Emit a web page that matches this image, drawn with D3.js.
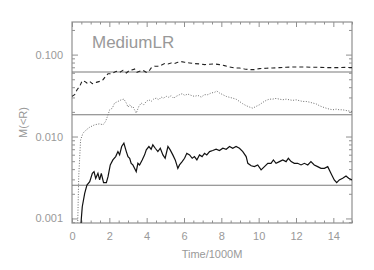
<!DOCTYPE html>
<html>
<head>
<meta charset="utf-8">
<script src="https://cdn.jsdelivr.net/npm/d3@7"></script>
<style>
  body { margin: 0; background: #fff; }
  text { font-family: "Liberation Sans", Arial, sans-serif; fill: #999; }
</style>
</head>
<body>
<div class="chart"></div>
<script>
const width = 374;
const height = 270;
const margin = { top: 22, right: 22, bottom: 47, left: 72 };

// M(<R) vs time, three radii
const solidData = [[0.46,0.0007],[0.50,0.00100],[0.55,0.00139],[0.68,0.00202],[0.80,0.00256],[0.95,0.00281],[1.09,0.00356],[1.18,0.00373],[1.27,0.00309],[1.39,0.00356],[1.48,0.00295],[1.57,0.00356],[1.69,0.00273],[1.84,0.00273],[1.93,0.00324],[2.05,0.00450],[2.19,0.00518],[2.34,0.00569],[2.46,0.00655],[2.55,0.00597],[2.66,0.00755],[2.78,0.00828],[2.91,0.00655],[3.00,0.00569],[3.09,0.00543],[3.17,0.00471],[3.26,0.00450],[3.35,0.00409],[3.44,0.00373],[3.53,0.00471],[3.62,0.00450],[3.76,0.00518],[3.89,0.00597],[3.98,0.00687],[4.12,0.00755],[4.24,0.00700],[4.33,0.00791],[4.46,0.00719],[4.60,0.00655],[4.73,0.00719],[4.87,0.00597],[4.99,0.00543],[5.14,0.00755],[5.26,0.00687],[5.40,0.00597],[5.53,0.00518],[5.67,0.00409],[5.76,0.00450],[5.90,0.00494],[6.03,0.00543],[6.15,0.00625],[6.30,0.00597],[6.44,0.00543],[6.56,0.00569],[6.69,0.00518],[6.83,0.00597],[6.97,0.00569],[7.10,0.00625],[7.22,0.00597],[7.37,0.00655],[7.54,0.00675],[7.72,0.00700],[7.90,0.00675],[8.08,0.00719],[8.26,0.00700],[8.44,0.00755],[8.61,0.00719],[8.79,0.00755],[8.97,0.00719],[9.15,0.00655],[9.33,0.00569],[9.42,0.00471],[9.60,0.00440],[9.77,0.00429],[9.95,0.00450],[10.13,0.00391],[10.31,0.00429],[10.49,0.00471],[10.66,0.00471],[10.79,0.00518],[10.93,0.00471],[11.11,0.00494],[11.29,0.00518],[11.47,0.00494],[11.59,0.00543],[11.74,0.00494],[11.91,0.00471],[12.09,0.00471],[12.27,0.00450],[12.45,0.00471],[12.63,0.00450],[12.80,0.00494],[12.98,0.00450],[13.16,0.00429],[13.34,0.00409],[13.52,0.00409],[13.70,0.00429],[13.87,0.00356],[14.05,0.00295],[14.18,0.00273],[14.32,0.00295],[14.50,0.00309],[14.68,0.00330],[14.82,0.00309],[15.00,0.00295]];

const dashedData = [[0,0.0309],[0.14,0.0324],[0.27,0.0373],[0.41,0.0409],[0.55,0.0481],[0.68,0.0471],[0.80,0.0450],[0.95,0.0471],[1.09,0.0441],[1.30,0.0458],[1.48,0.0471],[1.66,0.0494],[1.80,0.0543],[1.93,0.0585],[2.05,0.0585],[2.19,0.0597],[2.37,0.0625],[2.55,0.0608],[2.73,0.0643],[2.91,0.0597],[3.09,0.0643],[3.26,0.0655],[3.35,0.0668],[3.48,0.0608],[3.62,0.0625],[3.80,0.0643],[3.98,0.0608],[4.12,0.0625],[4.24,0.0687],[4.42,0.0720],[4.60,0.0720],[4.78,0.0740],[4.96,0.0776],[5.14,0.0769],[5.31,0.0791],[5.49,0.0776],[5.67,0.0806],[5.85,0.0821],[6.03,0.0806],[6.30,0.0791],[6.56,0.0776],[6.83,0.0769],[7.10,0.0755],[7.37,0.0762],[7.63,0.0769],[7.90,0.0755],[8.17,0.0733],[8.44,0.0706],[8.70,0.0687],[8.97,0.0687],[9.24,0.0668],[9.51,0.0655],[9.77,0.0655],[10.04,0.0674],[10.40,0.0681],[10.75,0.0687],[11.11,0.0693],[11.47,0.0700],[11.82,0.0706],[12.18,0.0706],[12.54,0.0706],[12.90,0.0700],[13.25,0.0700],[13.61,0.0693],[13.97,0.0693],[14.32,0.0693],[14.68,0.0700],[15.00,0.0693]];

const dottedData = [[0.29,0.0006],[0.36,0.00324],[0.46,0.00910],[0.59,0.0110],[0.77,0.0121],[0.95,0.0130],[1.21,0.0139],[1.48,0.0143],[1.66,0.0139],[1.80,0.0153],[1.93,0.0184],[2.02,0.0212],[2.16,0.0222],[2.28,0.0256],[2.46,0.0268],[2.64,0.0281],[2.78,0.0286],[2.91,0.0256],[3.00,0.0229],[3.09,0.0244],[3.17,0.0229],[3.26,0.0233],[3.35,0.0212],[3.44,0.0193],[3.58,0.0233],[3.71,0.0256],[3.84,0.0244],[3.98,0.0268],[4.12,0.0281],[4.24,0.0268],[4.37,0.0286],[4.51,0.0294],[4.65,0.0281],[4.78,0.0303],[4.90,0.0294],[5.05,0.0309],[5.19,0.0301],[5.31,0.0315],[5.44,0.0294],[5.58,0.0309],[5.76,0.0324],[5.90,0.0333],[6.04,0.0318],[6.20,0.0330],[6.38,0.0318],[6.56,0.0309],[6.74,0.0318],[6.92,0.0303],[7.10,0.0324],[7.28,0.0324],[7.45,0.0340],[7.63,0.0346],[7.76,0.0359],[7.90,0.0340],[8.08,0.0324],[8.26,0.0309],[8.44,0.0301],[8.61,0.0294],[8.79,0.0286],[8.97,0.0268],[9.15,0.0251],[9.33,0.0238],[9.51,0.0229],[9.68,0.0222],[9.86,0.0233],[10.04,0.0244],[10.22,0.0261],[10.40,0.0276],[10.57,0.0286],[10.75,0.0286],[10.93,0.0292],[11.11,0.0286],[11.29,0.0281],[11.47,0.0286],[11.64,0.0281],[11.82,0.0276],[12.00,0.0281],[12.18,0.0274],[12.36,0.0268],[12.54,0.0268],[12.72,0.0263],[12.90,0.0256],[13.07,0.0251],[13.25,0.0238],[13.43,0.0229],[13.61,0.0222],[13.79,0.0216],[13.97,0.0212],[14.15,0.0216],[14.32,0.0212],[14.50,0.0212],[14.68,0.0208],[15.00,0.0202]];

const refLevels = [0.0614, 0.01845, 0.00254];

const xMajor = [0, 2, 4, 6, 8, 10, 12, 14];
const yMajor = [0.001, 0.01, 0.1];
const yLabels = ['0.001', '0.010', '0.100'];

const x = d3.scaleLinear().domain([0, 15]).range([margin.left, width - margin.right]);
const y = d3.scaleLog().domain([0.00088, 0.25]).range([height - margin.bottom, margin.top]);

const svg = d3.select('.chart').append('svg')
  .attr('width', width)
  .attr('height', height);

svg.append('clipPath').attr('id', 'clip')
  .append('rect')
  .attr('x', margin.left).attr('y', margin.top)
  .attr('width', width - margin.left - margin.right)
  .attr('height', height - margin.top - margin.bottom);

const axisColor = '#909090';
const xMinor = d3.range(0, 15.01, 0.5).filter(d => !xMajor.includes(d));
const yMinor = y.ticks().filter(d => !yMajor.some(m => Math.abs(m - d) < 1e-9));

function styleAxis(g) {
  g.select('.domain').remove();
  g.selectAll('line').attr('stroke', axisColor);
  g.selectAll('text').attr('fill', '#999').style('font-size', '11px');
}

// bottom + top
svg.append('g').attr('transform', `translate(0,${height - margin.bottom})`)
  .call(d3.axisBottom(x).tickValues(xMajor).tickSize(-5).tickPadding(9).tickFormat(d3.format('d')))
  .call(styleAxis);
svg.append('g').attr('transform', `translate(0,${height - margin.bottom})`)
  .call(d3.axisBottom(x).tickValues(xMinor).tickSize(-2.5).tickFormat(''))
  .call(styleAxis);
svg.append('g').attr('transform', `translate(0,${margin.top})`)
  .call(d3.axisTop(x).tickValues(xMajor).tickSize(-5).tickFormat(''))
  .call(styleAxis);
svg.append('g').attr('transform', `translate(0,${margin.top})`)
  .call(d3.axisTop(x).tickValues(xMinor).tickSize(-2.5).tickFormat(''))
  .call(styleAxis);

// left + right
svg.append('g').attr('transform', `translate(${margin.left},0)`)
  .call(d3.axisLeft(y).tickValues(yMajor).tickSize(-6).tickPadding(9).tickFormat((d, i) => yLabels[i]))
  .call(styleAxis);
svg.append('g').attr('transform', `translate(${margin.left},0)`)
  .call(d3.axisLeft(y).tickValues(yMinor).tickSize(-3).tickFormat(''))
  .call(styleAxis);
svg.append('g').attr('transform', `translate(${width - margin.right},0)`)
  .call(d3.axisRight(y).tickValues(yMajor).tickSize(-6).tickFormat(''))
  .call(styleAxis);
svg.append('g').attr('transform', `translate(${width - margin.right},0)`)
  .call(d3.axisRight(y).tickValues(yMinor).tickSize(-3).tickFormat(''))
  .call(styleAxis);

svg.append('rect')
  .attr('x', margin.left).attr('y', margin.top)
  .attr('width', width - margin.left - margin.right)
  .attr('height', height - margin.top - margin.bottom)
  .attr('fill', 'none').attr('stroke', axisColor).attr('stroke-width', 1.2);

// reference levels
svg.selectAll('.ref').data(refLevels).enter().append('line')
  .attr('x1', margin.left).attr('x2', width - margin.right)
  .attr('y1', d => y(d)).attr('y2', d => y(d))
  .attr('stroke', '#7a7a7a').attr('stroke-width', 1.1);

const line = d3.line().x(d => x(d[0])).y(d => y(d[1]));
const plot = svg.append('g').attr('clip-path', 'url(#clip)');

plot.append('path').datum(dottedData).attr('d', line)
  .attr('fill', 'none').attr('stroke', '#6e6e6e').attr('stroke-width', 1)
  .attr('stroke-dasharray', '1,1.6');
plot.append('path').datum(dashedData).attr('d', line)
  .attr('fill', 'none').attr('stroke', '#222').attr('stroke-width', 1.1)
  .attr('stroke-dasharray', '4,3');
plot.append('path').datum(solidData).attr('d', line)
  .attr('fill', 'none').attr('stroke', '#111').attr('stroke-width', 1.2);

svg.append('text').attr('x', 92).attr('y', 48)
  .style('font-size', '17px').text('MediumLR');

svg.append('text')
  .attr('x', (margin.left + width - margin.right) / 2).attr('y', 258)
  .attr('text-anchor', 'middle').style('font-size', '11px').text('Time/1000M');

svg.append('text')
  .attr('transform', `translate(27,${(margin.top + height - margin.bottom) / 2}) rotate(-90)`)
  .attr('text-anchor', 'middle').style('font-size', '11px').text('M(<R)');
</script>
</body>
</html>
